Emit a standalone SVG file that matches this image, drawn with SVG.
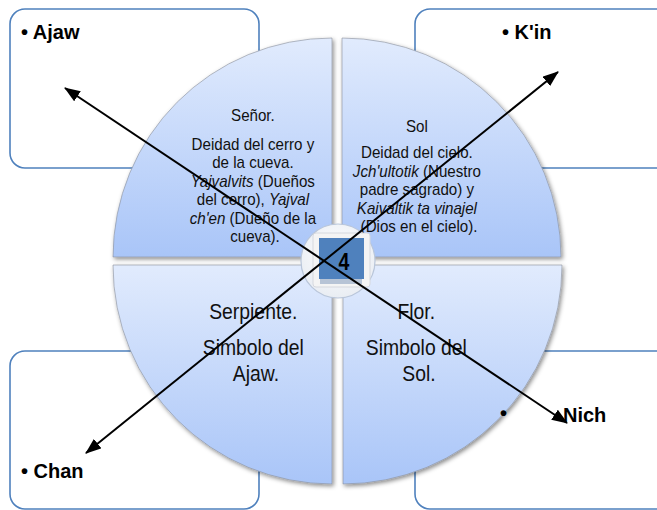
<svg xmlns="http://www.w3.org/2000/svg" width="657" height="510" viewBox="0 0 657 510">
<defs>
<style>
.box{fill:#fff;stroke:#4f81bd;stroke-width:1.6}
.q{fill:url(#qg);stroke:#8a8f99;stroke-width:0.6;filter:url(#sh)}
.t1{font-family:"Liberation Sans",Arial,sans-serif;font-size:17px;fill:#111}
.t2{font-family:"Liberation Sans",Arial,sans-serif;font-size:22px;fill:#111}
.lab{font-family:"Liberation Sans",Arial,sans-serif;font-size:20px;font-weight:bold;fill:#000}
.it{font-style:italic}
.arr{stroke:#000;stroke-width:2;fill:none;marker-start:url(#ah);marker-end:url(#ah)}
</style>
<linearGradient id="qg" x1="0" y1="0" x2="0" y2="1">
<stop offset="0" stop-color="#e1ebfd"/>
<stop offset="1" stop-color="#a9c5f8"/>
</linearGradient>
<radialGradient id="cg" cx="0.5" cy="0.4" r="0.6">
<stop offset="0" stop-color="#ffffff"/>
<stop offset="1" stop-color="#e9edf3"/>
</radialGradient>
<filter id="sh" x="-10%" y="-10%" width="125%" height="125%">
<feDropShadow dx="1.5" dy="2" stdDeviation="2" flood-color="#000" flood-opacity="0.45"/>
</filter>
<marker id="ah" viewBox="0 0 16 12" refX="15" refY="6" markerWidth="16" markerHeight="12" markerUnits="userSpaceOnUse" orient="auto-start-reverse">
<path d="M0,0 L16,6 L0,12 z" fill="#000"/>
</marker>
</defs>
<rect width="657" height="510" fill="#fff"/>
<g id="box-ajaw"><rect class="box" x="10" y="9" width="249" height="159" rx="15"/><text class="lab" x="21" y="39">• Ajaw</text></g>
<g id="box-kin"><rect class="box" x="415" y="9" width="260" height="159" rx="15"/><text class="lab" x="502" y="39">• K'in</text></g>
<g id="box-chan"><rect class="box" x="10" y="351" width="249" height="158" rx="15"/><text class="lab" x="21" y="478">• Chan</text></g>
<g id="box-nich"><rect class="box" x="415" y="351" width="260" height="158" rx="15"/></g>
<g id="q-senor">
<path class="q" d="M332,257 L113,257 A219,219 0 0 1 332,38 Z"/>
<g transform="translate(255 0) scale(0.89 1)"><text class="t1" text-anchor="middle">
<tspan x="0" y="121">Señor.</tspan>
<tspan x="0" y="150">Deidad del cerro y</tspan>
<tspan x="0" y="168.5">de la cueva.</tspan>
<tspan x="0" y="187"><tspan class="it">Yajvalvits</tspan> (Dueños</tspan>
<tspan x="0" y="205.5">del cerro), <tspan class="it">Yajval</tspan></tspan>
<tspan x="0" y="224"><tspan class="it">ch'en</tspan> (Dueño de la</tspan>
<tspan x="0" y="242.5">cueva).</tspan>
</text></g>
</g>
<g id="q-sol">
<path class="q" d="M342,257 L342,38 A219,219 0 0 1 561,257 Z"/>
<g transform="translate(419 0) scale(0.89 1)"><text class="t1" text-anchor="middle">
<tspan x="0" y="132">Sol</tspan>
<tspan x="0" y="158.5">Deidad del cielo.</tspan>
<tspan x="0" y="177"><tspan class="it">Jch'ultotik </tspan>(Nuestro</tspan>
<tspan x="0" y="195.5">padre sagrado) y</tspan>
<tspan x="0" y="214" class="it">Kaivaltik ta vinajel</tspan>
<tspan x="0" y="232.5">(Dios en el cielo).</tspan>
</text></g>
</g>
<g id="q-serpiente">
<path class="q" d="M332,265 L332,484 A219,219 0 0 1 113,265 Z"/>
<g transform="translate(256 0) scale(0.88 1)"><text class="t2" text-anchor="middle">
<tspan x="0" y="319">Serpiente.</tspan>
<tspan x="0" y="355">Simbolo del</tspan>
<tspan x="0" y="381">Ajaw.</tspan>
</text></g>
</g>
<g id="q-flor">
<path class="q" d="M343,265 L562,265 A219,219 0 0 1 343,484 Z"/>
<g transform="translate(419 0) scale(0.88 1)"><text class="t2" text-anchor="middle">
<tspan x="0" y="319">Flor.</tspan>
<tspan x="0" y="355">Simbolo del</tspan>
<tspan x="0" y="381">Sol.</tspan>
</text></g>
</g>
<g id="label-nich"><text class="lab" x="500" y="420">•</text><text class="lab" x="563" y="422">Nich</text></g>
<g id="center-4">
<circle cx="338" cy="261" r="37" fill="url(#cg)" stroke="#b9c6da" stroke-width="1.2"/>
<rect x="313" y="233" width="57" height="54" rx="3" fill="#f4f4f4" stroke="#d5d8de" stroke-width="1"/>
<rect x="320" y="279" width="42" height="5" fill="#8ea3c2" opacity="0.6"/>
<rect x="319" y="238" width="45" height="41" fill="#4f81bd"/>
<text x="344" y="270" text-anchor="middle" font-family="'Liberation Sans',Arial,sans-serif" font-weight="bold" font-size="23" transform="translate(344 0) scale(0.85 1) translate(-344 0)" fill="#000">4</text>
</g>
<g id="connectors">
<path class="arr" d="M65,88 L567,423"/>
<path class="arr" d="M86,453 L558,72"/>
</g>
</svg>
